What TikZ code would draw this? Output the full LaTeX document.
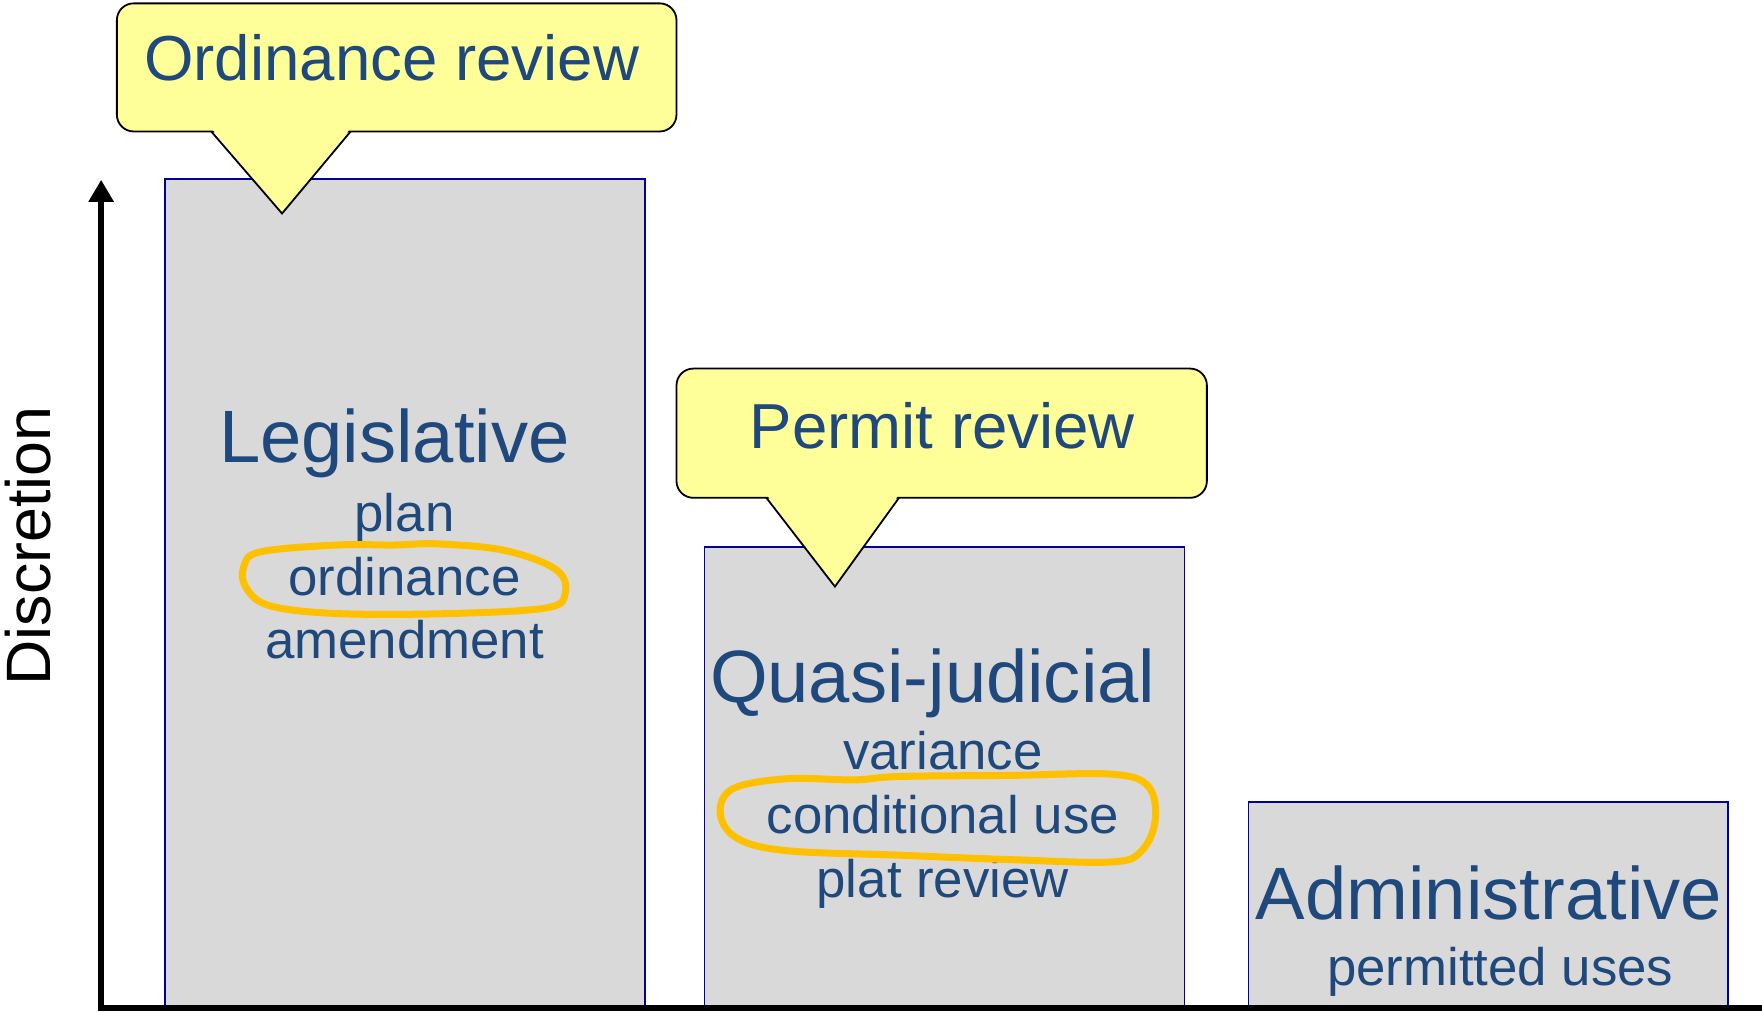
\documentclass[tikz,border=0pt]{standalone}
\usepackage{fontspec}
\setmainfont{Liberation Sans}
\usetikzlibrary{arrows.meta}
\definecolor{txtblue}{HTML}{1F497D}
\definecolor{boxgray}{HTML}{D9D9D9}
\definecolor{boxedge}{HTML}{00009C}
\definecolor{callyellow}{HTML}{FFFF99}
\definecolor{markorange}{HTML}{FFC000}
\tikzset{
  colbox/.style={fill=boxgray, draw=boxedge, line width=0.9pt},
  callbox/.style={fill=callyellow, draw=black, line width=0.9pt, rounded corners=8.4pt},
  callfill/.style={fill=callyellow},
  calledge/.style={draw=black, line width=0.9pt, line join=miter},
  bigtxt/.style={font=\fontsize{37.1pt}{40pt}\selectfont, text=txtblue, inner sep=0pt, anchor=base},
  smalltxt/.style={font=\fontsize{26.4pt}{30pt}\selectfont, text=txtblue, inner sep=0pt, anchor=base},
  calltxt/.style={font=\fontsize{31.8pt}{34pt}\selectfont, text=txtblue, inner sep=0pt, anchor=base},
  axistxt/.style={font=\fontsize{31.35pt}{34pt}\selectfont, text=black, inner sep=0pt, anchor=base, rotate=90},
  axisline/.style={line width=2.9pt, draw=black},
  marker/.style={draw=markorange, line width=3.5pt, line cap=round, line join=round}
}
\begin{document}
\begin{tikzpicture}[x=0.56185pt, y=-0.56185pt]
\useasboundingbox (0,0) rectangle (1568,901);

% columns
\path[colbox] (147,159) rectangle (574,899);
\path[colbox] (627,487) rectangle (1054,899);
\path[colbox] (1111,714) rectangle (1538,899);

% axes
\coordinate (origin) at (90,897);
\coordinate (ytop) at (90,160);
\coordinate (xend) at (1568,897);
\draw[axisline] (88,897) -- (xend);
\draw[axisline, -{Triangle[width=12pt,length=11pt]}] (90,899.5) -- (ytop);

% callout 1
\path[callbox] (104,3) rectangle (602,117);
\fill[callfill] (188,114) -- (251,190) -- (312,114) -- cycle;
\draw[calledge] (188,117) -- (251,190) -- (312,117);
% callout 2
\path[callbox] (602,328) rectangle (1074,443);
\fill[callfill] (682,440) -- (743,522) -- (800,440) -- cycle;
\draw[calledge] (682,443) -- (743,522) -- (800,443);

% texts
\node[calltxt] (ordrev) at (348.5,72) {Ordinance review};
\node[calltxt] (permrev) at (838.5,399) {Permit review};

\node[bigtxt] (leg) at (351,412) {Legislative};
\node[smalltxt] (plan) at (360,473) {plan};
\node[smalltxt] (ordn) at (360,530) {ordinance};
\node[smalltxt] (amend) at (360,586) {amendment};

\node[bigtxt] (quasi) at (830,625) {Quasi-judicial};
\node[smalltxt] (var) at (839,685) {variance};
\node[smalltxt] (cond) at (839,742) {conditional use};
\node[smalltxt] (plat) at (839,799) {plat review};

\node[bigtxt] (admin) at (1325,818) {Administrative};
\node[smalltxt] (perm) at (1335,877) {permitted uses};

\node[axistxt] (disc) at (45,486) {Discretion};

% hand-drawn marks
\draw[marker] plot[smooth cycle, tension=0.6] coordinates {
  (232,491) (300,485) (350,485) (390,484) (450,490) (495,507) (503,528)
  (486,541) (400,546) (300,546) (240,539) (219,523) (217,504)};
\draw[marker] plot[smooth cycle, tension=0.6] coordinates {
  (652,702) (700,693) (760,694) (800,691) (900,690) (990,689) (1022,700) (1028,730)
  (1016,757) (990,767) (900,765) (800,761) (700,757) (656,746) (641,724)};
\end{tikzpicture}
\end{document}
